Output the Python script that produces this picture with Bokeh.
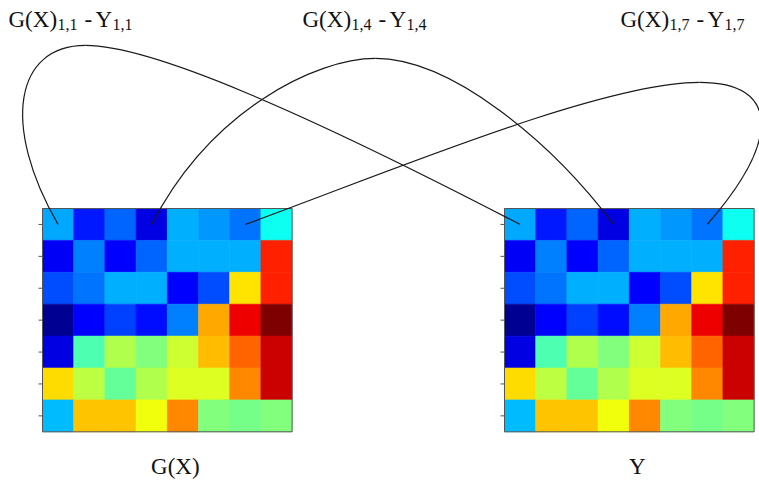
import numpy as np
from bokeh.plotting import figure
from bokeh.models import Range1d, LinearColorMapper, ColumnDataSource
from bokeh.core.properties import value
from bokeh.embed import file_html
from bokeh.resources import INLINE

# ---------------- data ----------------
n_rows = 7
n_cols = 8
# matrix values (top row first)
gx_values = [
    [0.29, 0.15, 0.225, 0.10, 0.30, 0.275, 0.24, 0.39],
    [0.12, 0.25, 0.125, 0.225, 0.30, 0.30, 0.30, 0.84],
    [0.20, 0.24, 0.30, 0.30, 0.125, 0.20, 0.65, 0.84],
    [0.02, 0.125, 0.19, 0.14, 0.25, 0.71, 0.89, 1.00],
    [0.10, 0.45, 0.55, 0.50, 0.575, 0.69, 0.775, 0.925],
    [0.66, 0.56, 0.475, 0.55, 0.59, 0.59, 0.74, 0.925],
    [0.31, 0.68, 0.68, 0.61, 0.74, 0.50, 0.49, 0.50],
]
y_values = [
    [0.29, 0.15, 0.225, 0.10, 0.30, 0.275, 0.24, 0.39],
    [0.12, 0.25, 0.125, 0.225, 0.30, 0.30, 0.30, 0.84],
    [0.20, 0.24, 0.30, 0.30, 0.125, 0.20, 0.65, 0.84],
    [0.02, 0.125, 0.19, 0.14, 0.25, 0.71, 0.89, 1.00],
    [0.10, 0.45, 0.55, 0.50, 0.575, 0.69, 0.775, 0.925],
    [0.66, 0.56, 0.475, 0.55, 0.59, 0.59, 0.74, 0.925],
    [0.31, 0.68, 0.68, 0.61, 0.74, 0.50, 0.49, 0.50],
]
matrix_names = ["G(X)", "Y"]
# linked cells (row, col), 1-based
links = [(1, 1), (1, 4), (1, 7)]

# ---------------- layout ----------------
W, H = 759, 486
cell_w, cell_h = 31.2, 31.9
origins = [(42, 208), (504, 208)]  # left/top of each matrix
serif = value("Liberation Serif")


def jet(t):
    r = min(max(1.5 - abs(4 * t - 3), 0), 1)
    g = min(max(1.5 - abs(4 * t - 2), 0), 1)
    b = min(max(1.5 - abs(4 * t - 1), 0), 1)
    return "#%02x%02x%02x" % (int(r * 255), int(g * 255), int(b * 255))


palette = [jet(i / 255) for i in range(256)]
mapper = LinearColorMapper(palette=palette, low=0, high=1)

p = figure(width=W, height=H, x_range=Range1d(0, W), y_range=Range1d(H, 0),
           output_backend="svg", toolbar_location=None, min_border=0,
           x_axis_location=None, y_axis_location=None,
           background_fill_color="white", border_fill_color="white")
p.outline_line_color = None
p.xgrid.visible = False
p.ygrid.visible = False


def cell_center(k, r, c):
    ox, oy = origins[k]
    return ox + (c + 0.5) * cell_w, oy + (r + 0.5) * cell_h


for k, mat in enumerate([gx_values, y_values]):
    xs, ys, vs = [], [], []
    for r in range(n_rows):
        for c in range(n_cols):
            cx, cy = cell_center(k, r, c)
            xs.append(cx)
            ys.append(cy)
            vs.append(mat[r][c])
    src = ColumnDataSource(dict(x=xs, y=ys, v=vs))
    p.rect(x="x", y="y", width=cell_w, height=cell_h, source=src,
           fill_color={"field": "v", "transform": mapper},
           line_color={"field": "v", "transform": mapper}, line_width=0.6)
    ox, oy = origins[k]
    p.quad(left=[ox], right=[ox + n_cols * cell_w], top=[oy], bottom=[oy + n_rows * cell_h],
           fill_color=None, line_color="#555555", line_width=1)
    # row ticks on the left side
    ty = [oy + (r + 0.5) * cell_h for r in range(n_rows)]
    p.segment(x0=[ox - 4] * n_rows, y0=ty, x1=[ox] * n_rows, y1=ty,
              line_color="#555555", line_width=1)
    # bottom label
    p.text(x=[ox + n_cols * cell_w / 2 + 8], y=[466], text=[matrix_names[k]],
           text_font=serif, text_font_size="23px", text_align="center",
           text_baseline="alphabetic", text_color="#111111")

# ---------------- connecting curves ----------------
# shape of each connector: offsets from its start cell (ctrl1, ctrl2, apex, ctrl3, ctrl4)
curve_shapes = [
    [(-57.6, -100), (-42.6, -179), (27.4, -179), (92.4, -179), (242.4, -114)],
    [(58.8, -114), (163.8, -166), (223.8, -166), (298.8, -166), (398.8, -84)],
    [(135.2, -49), (355.2, -142), (454.2, -142), (535.2, -142), (535.2, -84)],
]
bx0, by0, bx1, by1, bcx0, bcy0, bcx1, bcy1 = [], [], [], [], [], [], [], []
for (r, c), shape in zip(links, curve_shapes):
    sx, sy = cell_center(0, r - 1, c - 1)
    ex, ey = cell_center(1, r - 1, c - 1)
    pts = [(sx + dx, sy + dy) for dx, dy in shape]
    c1, c2, apex, c3, c4 = pts
    # segment A
    bx0.append(sx); by0.append(sy); bx1.append(apex[0]); by1.append(apex[1])
    bcx0.append(c1[0]); bcy0.append(c1[1]); bcx1.append(c2[0]); bcy1.append(c2[1])
    # segment B
    bx0.append(apex[0]); by0.append(apex[1]); bx1.append(ex); by1.append(ey)
    bcx0.append(c3[0]); bcy0.append(c3[1]); bcx1.append(c4[0]); bcy1.append(c4[1])
p.bezier(x0=bx0, y0=by0, x1=bx1, y1=by1, cx0=bcx0, cy0=bcy0, cx1=bcx1, cy1=bcy1,
         line_color="#1a1a1a", line_width=1.2)

# ---------------- top labels ----------------
label_x = [8, 302, 620]
main_size, sub_size = "23px", "16px"
base_y, sub_y = 19, 24
for (r, c), lx in zip(links, label_x):
    sub = "%d,%d" % (r, c)
    p.text(x=[lx], y=[base_y], text=["G(X)"], text_font=serif, text_font_size=main_size,
           text_baseline="alphabetic", text_color="#111111")
    p.text(x=[lx + 49], y=[sub_y], text=[sub], text_font=serif, text_font_size=sub_size,
           text_baseline="alphabetic", text_color="#111111")
    p.text(x=[lx + 76], y=[base_y], text=["-"], text_font=serif, text_font_size=main_size,
           text_baseline="alphabetic", text_color="#111111")
    p.text(x=[lx + 87], y=[base_y], text=["Y"], text_font=serif, text_font_size=main_size,
           text_baseline="alphabetic", text_color="#111111")
    p.text(x=[lx + 104], y=[sub_y], text=[sub], text_font=serif, text_font_size=sub_size,
           text_baseline="alphabetic", text_color="#111111")

open("out.html", "w").write(file_html(p, INLINE))
